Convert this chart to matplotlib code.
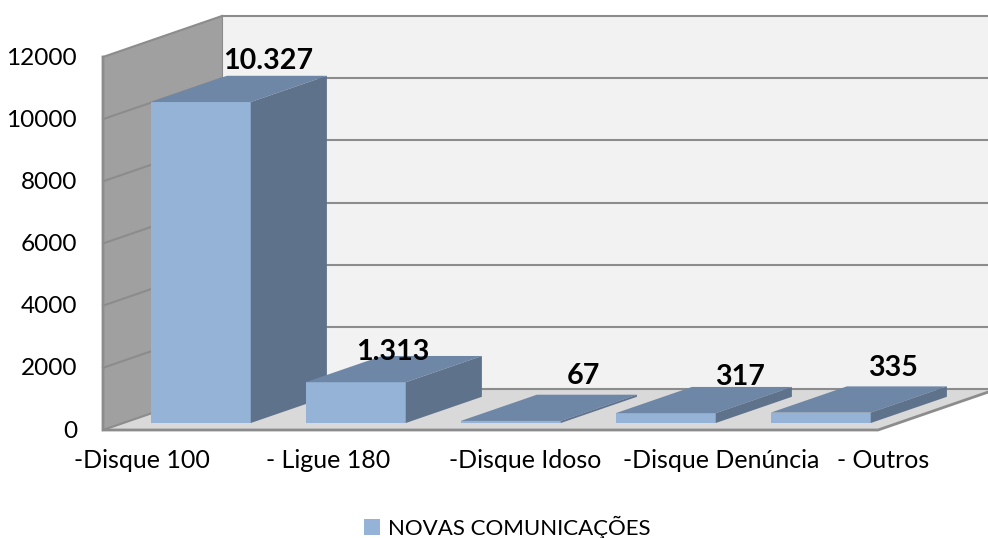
import matplotlib
matplotlib.use('Agg')
import matplotlib.pyplot as plt
from matplotlib.patches import Polygon, Patch

categories = ['-Disque 100', '- Ligue 180', '-Disque Idoso', '-Disque Denúncia', '- Outros']
values = [10327, 1313, 67, 317, 335]
value_labels = ['10.327', '1.313', '67', '317', '335']
y_ticks = [0, 2000, 4000, 6000, 8000, 10000, 12000]
series_name = 'NOVAS COMUNICAÇÕES'

# depth of the floor, in category units / value units
DX = 119 / 155
DY = 41 / 373 * 12000
GAP = 0.17
BAR_DEPTH = 0.64
BAR_W = 100 / 155

# pixel nudges of the texts, relative to the middle of each category
label_off = [(-9, 2), (-39, -9), (-3, 6), (-2, -3), (-4, 5)]
tick_off = [-39, -7, 35, 76, 83]

plt.rcParams['font.family'] = ['Lato', 'DejaVu Sans']

fig = plt.figure(figsize=(9.88, 5.38), dpi=100)
ax = fig.add_axes([103 / 988, 108 / 538, 775 / 988, 373 / 538])
ax.set_xlim(0, 5)
ax.set_ylim(0, 12000)
ax.axis('off')


def pt(x, y, d):
    return (x + d * DX, y + d * DY)


def poly(points, color, edge='none', lw=0, z=1, clip=False):
    p = Polygon(points, closed=True, facecolor=color, edgecolor=edge, linewidth=lw, zorder=z)
    p.set_clip_on(clip)
    ax.add_patch(p)


# back wall, side wall and floor
poly([pt(0, 0, 1), pt(5, 0, 1), pt(5, 12000, 1), pt(0, 12000, 1)], '#f2f2f2', z=1)
poly([pt(0, 0, 0), pt(0, 0, 1), pt(0, 12000, 1), pt(0, 12000, 0)], '#a0a0a0', z=1)
poly([pt(0, 0, 0), pt(5, 0, 0), pt(5, 0, 1), pt(0, 0, 1)], '#d9d9d9', z=1)

edge_col = '#8c8c8c'
for t in y_ticks:
    ax.plot(*zip(pt(0, t, 1), pt(5, t, 1)), color=edge_col, lw=1.5, zorder=2, clip_on=False)
    ax.plot(*zip(pt(0, t, 0), pt(0, t, 1)), color=edge_col, lw=1.5, zorder=2, clip_on=False)
ax.plot(*zip(pt(0, 12000, 0), pt(0, 0, 0), pt(5, 0, 0), pt(5, 0, 1)), color=edge_col, lw=2,
        zorder=3, clip_on=False, solid_joinstyle='miter')
ax.plot(*zip(pt(0, 0, 1), pt(0, 12000, 1)), color=edge_col, lw=0.8, zorder=3, clip_on=False)

# bars
front = '#95b3d7'
top = '#6f87a6'
side = '#5f728c'
for i, v in enumerate(values):
    x0 = i + (1 - BAR_W) / 2
    x1 = x0 + BAR_W
    d0 = GAP
    d1 = GAP + BAR_DEPTH
    z = 5 + i
    poly([pt(x0, 0, d0), pt(x1, 0, d0), pt(x1, v, d0), pt(x0, v, d0)], front, z=z)
    poly([pt(x0, v, d0), pt(x1, v, d0), pt(x1, v, d1), pt(x0, v, d1)], top, z=z)
    poly([pt(x1, 0, d0), pt(x1, 0, d1), pt(x1, v, d1), pt(x1, v, d0)], side, z=z)
    ax.annotate(value_labels[i], xy=pt(i + 0.5, v, d1), xytext=label_off[i], textcoords='offset pixels',
                ha='center', va='bottom', fontsize=20.6, fontweight='bold', color='black', zorder=20,
                annotation_clip=False)
    ax.annotate(categories[i], xy=(i + 0.5, 0), xytext=(tick_off[i], -30), textcoords='offset pixels',
                ha='center', va='center', fontsize=18, color='black', annotation_clip=False)

for t in y_ticks:
    ax.annotate(str(t), xy=(0, t), xytext=(-26, -1), textcoords='offset pixels', ha='right', va='center',
                fontsize=17.6, color='black', annotation_clip=False)

fig.legend(handles=[Patch(facecolor=front, label=series_name)], loc='center',
           bbox_to_anchor=(507 / 988, 1 - 527 / 538), frameon=False, fontsize=16,
           handlelength=0.72, handleheight=0.72, handletextpad=0.35)

fig.savefig('out.png', dpi=100)
